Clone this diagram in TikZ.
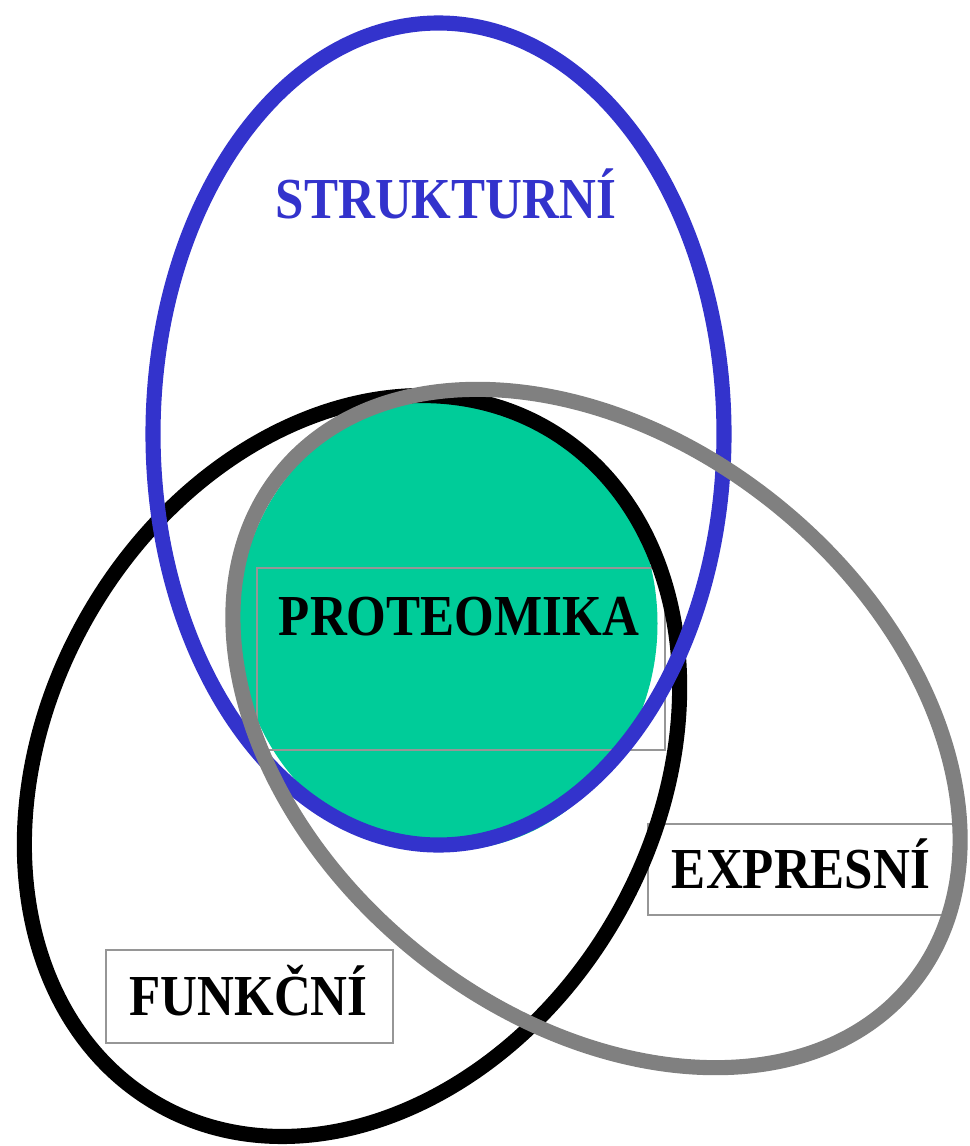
\documentclass[tikz,border=0pt]{standalone}
\usepackage{fontspec}
\newfontfamily\labelfont{Liberation Serif}[FakeStretch=0.88]
\usepackage{tikz}
\definecolor{strblue}{RGB}{51,51,204}
\definecolor{protgreen}{RGB}{0,204,153}
\definecolor{ringgray}{RGB}{128,128,128}
\definecolor{boxgray}{RGB}{150,150,150}

\begin{document}
\begin{tikzpicture}[ring/.style={line width=4.3pt},
    labelbox/.style={draw=boxgray, line width=0.6pt, inner sep=0pt},
    labeltext/.style={font=\labelfont\bfseries\fontsize{16.5}{18}\selectfont,
                      inner sep=0pt, anchor=base}]
  \useasboundingbox (0,0) rectangle (9.69,-11.46);

  % core area
  \fill[protgreen] (4.475,-6.235) ellipse [x radius=2.10, y radius=2.27];

  \node[labelbox, minimum width=4.08cm, minimum height=1.82cm] (protbox) at (4.61,-6.59) {};
  \node[labelbox, fill=white, minimum width=3.06cm, minimum height=0.91cm] (expbox) at (8.01,-8.695) {};
  \node[labelbox, fill=white, minimum width=2.87cm, minimum height=0.93cm] (funbox) at (2.495,-9.965) {};

  % the three rings
  \draw[ring, black] (3.52,-7.66) ellipse [x radius=3.90, y radius=3.04, rotate=60];
  \draw[ring, strblue] (4.385,-4.34) ellipse [x radius=2.855, y radius=4.11];
  \draw[ring, ringgray] (5.965,-7.285) ellipse [x radius=4.06, y radius=2.87, rotate=-39];

  \node[labeltext, text=strblue] (strukt) at (4.46,-2.18) {STRUKTURNÍ};
  \node[labeltext] (prot) at (4.59,-6.35) {PROTEOMIKA};
  \node[labeltext] (expr) at (8.01,-8.88) {EXPRESNÍ};
  \node[labeltext] (funk) at (2.485,-10.15) {FUNKČNÍ};
\end{tikzpicture}
\end{document}
